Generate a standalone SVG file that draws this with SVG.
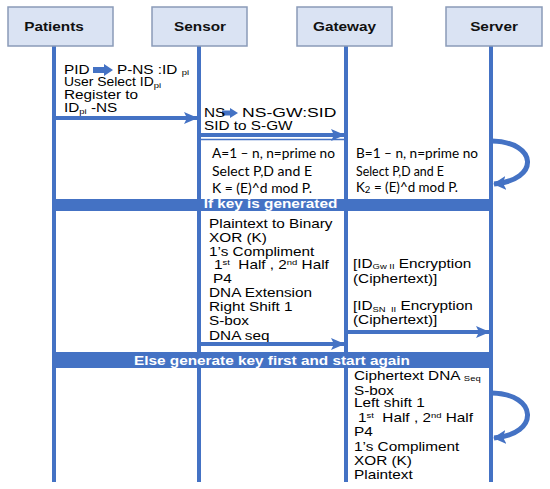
<svg xmlns="http://www.w3.org/2000/svg" width="550" height="489" viewBox="0 0 550 489">
<defs>
<style>
.hdr{fill:#dae3f3;stroke:#8a9bb8;stroke-width:1.5}
.life{stroke:#4472c4;stroke-width:4;fill:none}
.t{font-family:"Liberation Sans",Arial,sans-serif;font-size:13px;fill:#000}
.hb{font-family:"Liberation Sans",Arial,sans-serif;font-size:13px;font-weight:bold;fill:#111;text-anchor:middle}
.c{font-family:Lato,"Liberation Sans",sans-serif;font-size:12.5px;fill:#000}
.band{fill:#4472c4}
.bt{font-family:"Liberation Sans",Arial,sans-serif;font-size:13px;font-weight:bold;fill:#fff;text-anchor:middle}
.msg{stroke:#4472c4;stroke-width:4;fill:none}
.loop{stroke:#4472c4;stroke-width:5;fill:none}
.thin{stroke:#4472c4;stroke-width:1.5;fill:none}
.ba{fill:#4472c4}
.sub{font-size:8px}
</style>
<marker id="ah" markerUnits="userSpaceOnUse" markerWidth="14" markerHeight="12" viewBox="0 0 14 12" refX="13" refY="6" orient="auto">
<path d="M0,0 L14,6 L0,12 L3,6 z" fill="#4472c4"/>
</marker>
<marker id="lh" markerUnits="userSpaceOnUse" markerWidth="14" markerHeight="14" viewBox="0 0 14 14" refX="12" refY="7" orient="auto">
<path d="M0,0 L13,7 L0,14 L3,7 z" fill="#4472c4"/>
</marker>
</defs>
<rect width="550" height="489" fill="#fff"/>

<g id="lifelines">
<line class="life" x1="54" y1="46" x2="54" y2="482"/>
<line class="life" x1="199" y1="46" x2="199" y2="482"/>
<line class="life" x1="346" y1="46" x2="346" y2="482"/>
<line class="life" x1="491" y1="46" x2="491" y2="482"/>
</g>

<g id="patients">
<rect class="hdr" x="8" y="7" width="105" height="39"/>
<g transform="matrix(1.18 0 0 1 54 0)"><text class="hb" x="0" y="31.5">Patients</text></g>
</g>
<g id="sensor">
<rect class="hdr" x="152" y="7" width="95" height="39"/>
<g transform="matrix(1.18 0 0 1 200 0)"><text class="hb" x="0" y="31.5">Sensor</text></g>
</g>
<g id="gateway">
<rect class="hdr" x="297" y="7" width="95" height="39"/>
<g transform="matrix(1.18 0 0 1 344.5 0)"><text class="hb" x="0" y="31.5">Gateway</text></g>
</g>
<g id="server">
<rect class="hdr" x="446" y="7" width="96" height="39"/>
<g transform="matrix(1.18 0 0 1 494 0)"><text class="hb" x="0" y="31.5">Server</text></g>
</g>

<g id="note-registration">
<polygon class="ba" points="93,67 104,67 104,64 113,70 104,76 104,73 93,73"/>
<g transform="matrix(1.18 0 0 1 64 0)">
<text class="t" x="0" y="74">PID</text>
<text class="t" x="44.9" y="74" xml:space="preserve">P-NS :ID <tspan class="sub" dy="1">pi</tspan></text>
<text class="t" x="0" y="86.5"><tspan textLength="76" lengthAdjust="spacingAndGlyphs">User Select ID</tspan><tspan class="sub" dy="2">pi</tspan></text>
<text class="t" x="0" y="99">Register to</text>
<text class="t" x="0" y="112.5" xml:space="preserve">ID<tspan class="sub" dy="2">pi</tspan><tspan dy="-2"> -NS</tspan></text>
</g>
</g>

<g id="note-sensor">
<polygon class="ba" points="222,110.5 230,110.5 230,108 238,113 230,118 230,115.5 222,115.5"/>
<g transform="matrix(1.18 0 0 1 204 0)">
<text class="t" x="0" y="117.5">NS</text>
<text class="t" x="32.2" y="117.5" textLength="80" lengthAdjust="spacingAndGlyphs">NS-GW:SID</text>
<text class="t" x="0" y="130">SID to S-GW</text>
</g>
</g>

<g id="note-keyA">
<line class="thin" x1="199" y1="139.5" x2="346" y2="139.5"/>
<text class="c" x="212" y="157.5" textLength="123" lengthAdjust="spacingAndGlyphs">A=1 – n, n=prime no</text>
<text class="c" x="212" y="175.5" textLength="100" lengthAdjust="spacingAndGlyphs">Select P,D and E</text>
<text class="c" x="212" y="192.5" textLength="100" lengthAdjust="spacingAndGlyphs">K = (E)^d mod P.</text>
</g>

<g id="note-keyB">
<text class="c" x="356" y="158" textLength="122" lengthAdjust="spacingAndGlyphs">B=1 – n, n=prime no</text>
<text class="c" x="356" y="176" textLength="88" lengthAdjust="spacingAndGlyphs">Select P,D and E</text>
<text class="c" x="356" y="192" textLength="102" lengthAdjust="spacingAndGlyphs">K<tspan font-size="9" dy="1">2</tspan><tspan dy="-1"> = (E)^d mod P.</tspan></text>
</g>

<g id="band-if">
<rect class="band" x="52" y="199" width="441" height="12"/>
<g transform="matrix(1.18 0 0 1 270.5 0)"><text class="bt" x="0" y="208.5">If key is generated</text></g>
</g>

<g id="note-encrypt">
<g transform="matrix(1.18 0 0 1 209 0)">
<text class="t" x="0" y="228">Plaintext to Binary</text>
<text class="t" x="0" y="242">XOR (K)</text>
<text class="t" x="0" y="256">1’s Compliment</text>
<text class="t" x="4.2" y="269" xml:space="preserve">1<tspan class="sub" dy="-4">st</tspan><tspan dy="4">  Half , 2</tspan><tspan class="sub" dy="-4">nd</tspan><tspan dy="4"> Half</tspan></text>
<text class="t" x="3.4" y="283">P4</text>
<text class="t" x="0" y="297">DNA Extension</text>
<text class="t" x="0" y="311.5">Right Shift 1</text>
<text class="t" x="0" y="325.5">S-box</text>
<text class="t" x="0" y="340">DNA seq</text>
</g>
</g>

<g id="note-gateway">
<g transform="matrix(1.18 0 0 1 353 0)">
<text class="t" x="0" y="268" xml:space="preserve">[ID<tspan class="sub" dy="1.5">Gw II</tspan><tspan dy="-1.5"> Encryption</tspan></text>
<text class="t" x="0" y="283">(Ciphertext)]</text>
<text class="t" x="0" y="310.5" xml:space="preserve">[ID<tspan class="sub" dy="1.5">SN  II</tspan><tspan dy="-1.5"> Encryption</tspan></text>
<text class="t" x="0" y="324.5">(Ciphertext)]</text>
</g>
</g>

<g id="band-else">
<rect class="band" x="52" y="352" width="441" height="16"/>
<g transform="matrix(1.18 0 0 1 272 0)"><text class="bt" x="0" y="365">Else generate key first and start again</text></g>
</g>

<g id="note-decrypt">
<g transform="matrix(1.18 0 0 1 354 0)">
<text class="t" x="0" y="380.5" xml:space="preserve">Ciphertext DNA <tspan class="sub" dy="1">Seq</tspan></text>
<text class="t" x="0" y="395">S-box</text>
<text class="t" x="0" y="407.5">Left shift 1</text>
<text class="t" x="3.4" y="422" xml:space="preserve">1<tspan class="sub" dy="-4">st</tspan><tspan dy="4">  Half , 2</tspan><tspan class="sub" dy="-4">nd</tspan><tspan dy="4"> Half</tspan></text>
<text class="t" x="0" y="436.5">P4</text>
<text class="t" x="0" y="451">1’s Compliment</text>
<text class="t" x="0" y="465">XOR (K)</text>
<text class="t" x="0" y="479">Plaintext</text>
</g>
</g>

<g id="connectors">
<line class="msg" x1="56" y1="118" x2="197" y2="118" marker-end="url(#ah)"/>
<line class="msg" x1="201" y1="135" x2="344" y2="135" marker-end="url(#ah)"/>
<line class="msg" x1="201" y1="344" x2="344" y2="344" marker-end="url(#ah)"/>
<line class="msg" x1="348" y1="332" x2="489" y2="332" marker-end="url(#ah)"/>
<path class="loop" d="M492,141 C538,142 540,180 494,184" marker-end="url(#lh)"/>
<path class="loop" d="M492,393 C538,394 540,434 494,438" marker-end="url(#lh)"/>
</g>
</svg>
